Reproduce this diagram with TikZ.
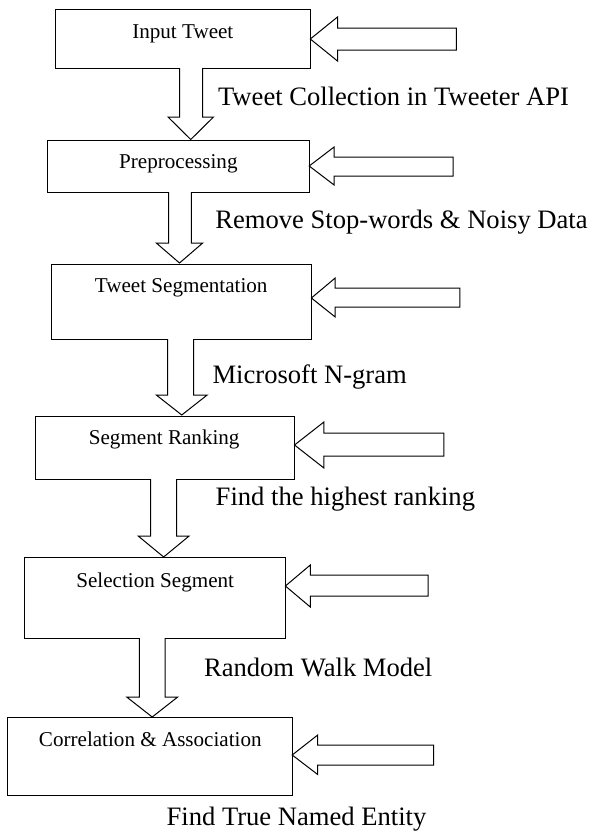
\documentclass[tikz,border=0pt]{standalone}
\usepackage{fontspec}
\setmainfont{Liberation Serif}
\begin{document}
\begin{tikzpicture}[x=1pt,y=-1pt,
  boxstyle/.style={draw,line width=1pt,rectangle,inner sep=0pt},
  boxtext/.style={font=\fontsize{21.1}{23}\selectfont,anchor=mid,inner sep=0pt},
  steptext/.style={font=\fontsize{26.6}{29}\selectfont,anchor=mid,inner sep=0pt},
  blk/.style={draw,line width=1pt,fill=white,line join=miter}]
\useasboundingbox (0,0) rectangle (592,833);
% down block arrow: shaft x1 x2, top y0, shaft end y1, head xl xr, tip y2
\newcommand\dblk[7]{\draw[blk] (#1,#3) -- (#1,#4) -- (#5,#4) -- ({(#5+#6)/2},#7) -- (#6,#4) -- (#2,#4) -- (#2,#3);}
% left-pointing block arrow: tip x, tip y, head back x, head top, head bottom, shaft top, shaft bottom, end x
\newcommand\lblk[8]{\draw[blk] (#1,#2) -- (#3,#4) -- (#3,#6) -- (#8,#6) -- (#8,#7) -- (#3,#7) -- (#3,#5) -- cycle;}

\node[boxstyle,minimum width=254.8pt,minimum height=59pt] (b1) at (182.9,38.5) {};
\node[boxtext] (t1) at (182.8,36) {Input Tweet};
\node[boxstyle,minimum width=261.6pt,minimum height=52pt] (b2) at (178.4,166) {};
\node[boxtext] (t2) at (178.4,166) {Preprocessing};
\node[boxstyle,minimum width=260.4pt,minimum height=75pt] (b3) at (181.2,301.5) {};
\node[boxtext] (t3) at (181.2,290) {Tweet Segmentation};
\node[boxstyle,minimum width=259.4pt,minimum height=63pt] (b4) at (164.8,447.5) {};
\node[boxtext] (t4) at (164.2,442) {Segment Ranking};
\node[boxstyle,minimum width=260.5pt,minimum height=81pt] (b5) at (155.2,597.5) {};
\node[boxtext] (t5) at (155.2,585) {Selection Segment};
\node[boxstyle,minimum width=284.3pt,minimum height=78pt] (b6) at (150.1,756) {};
\node[boxtext] (t6) at (150.3,744) {Correlation \& Association};

% side arrows
\lblk{310.3}{39}{337.5}{17}{61}{28}{50}{456.4}
\lblk{309.2}{166}{334.1}{147}{185}{157}{176}{453}
\lblk{311.4}{298}{335.2}{278}{317}{288}{307}{459.8}
\lblk{294.5}{445}{323.9}{422}{468}{433}{456}{443.9}
\lblk{285.4}{586}{310.3}{565}{607}{575}{596}{428.1}
\lblk{292.2}{755}{317.7}{735}{774.5}{745}{765}{433.7}

% down arrows
\dblk{179.5}{202.5}{68}{117}{168}{213.5}{139.5}
\dblk{168.7}{191.4}{192}{243}{156.3}{202.7}{263}
\dblk{167.6}{193.7}{339}{395}{156.3}{207.2}{415}
\dblk{150.6}{176.7}{479}{536}{138.2}{189.1}{557}
\dblk{139.3}{165}{638}{697}{126.7}{177.7}{717}

% labels
\node[steptext] (l1) at (393.5,103.5) {Tweet Collection in Tweeter API};
\node[steptext] (l2) at (401.5,226) {Remove Stop-words \& Noisy Data};
\node[steptext] (l3) at (309.7,381) {Microsoft N-gram};
\node[steptext] (l4) at (345.4,503.5) {Find the highest ranking};
\node[steptext] (l5) at (318.2,674) {Random Walk Model};
\node[steptext] (l6) at (296.5,823.5) {Find True Named Entity};
\end{tikzpicture}
\end{document}
